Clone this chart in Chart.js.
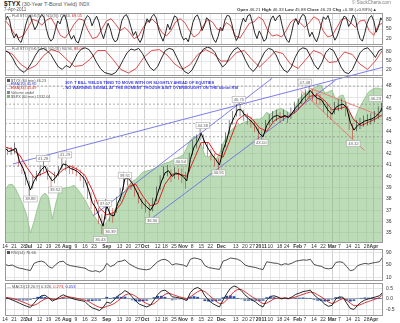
<!DOCTYPE html>
<html><head><meta charset="utf-8">
<script src="https://cdn.jsdelivr.net/npm/chart.js@4.4.1/dist/chart.umd.min.js"></script>
<style>
html,body{margin:0;padding:0;background:#fff;}
#wrap{position:relative;width:400px;height:323px;overflow:hidden;background:#fff;font-family:"Liberation Sans",Arial,sans-serif;}
canvas{position:absolute;left:0;}
.t{position:absolute;white-space:nowrap;line-height:1;color:#555;}
.b{font-weight:bold;color:#222;}
.r{color:#d22;}
.bl{color:#33c;}
.ann{position:absolute;white-space:nowrap;line-height:1;color:#3a3ae6;font-weight:bold;font-size:4px;}
.sq{display:inline-block;width:3px;height:3px;margin-right:1px;vertical-align:middle;}
</style></head><body>
<div id="wrap">
<canvas id="cSto1" width="400" height="34" style="top:12px"></canvas>
<canvas id="cSto2" width="400" height="32" style="top:45px"></canvas>
<canvas id="cRsi" width="400" height="34" style="top:248px"></canvas>
<canvas id="cMacd" width="400" height="41" style="top:282px"></canvas>
<canvas id="cMain" width="400" height="191" style="top:60px"></canvas>

<div class="t" style="left:4px;top:1px;font-size:5.5px;"><span class="b" style="font-size:6.5px">$TYX</span> (30-Year T-Bond Yield) <span style="font-size:4.5px">INDX</span></div>
<div class="t" style="left:4px;top:8px;font-size:4.5px;">7-Apr-2011</div>
<div class="t" style="left:352px;top:1px;font-size:4.5px;color:#777">© StockCharts.com</div>
<div class="t" style="left:237px;top:8px;font-size:4.4px;color:#333"><b>Open</b> 46.21 <b>High</b> 46.33 <b>Low</b> 45.88 <b>Close</b> 46.23 <b>Chg</b> +0.38 (+0.83%)▲</div>

<div class="t" style="left:7px;top:14px;font-size:4px;">— Full STO (%K(5,3) %D(3)) 73.63, <span class="r">69.05</span></div>
<div class="t" style="left:7px;top:47px;font-size:4px;">— Full STO (%K(14,3) %D(3)) 90.94, <span class="r">88.07</span></div>

<div class="t" style="left:7px;top:78.5px;font-size:3.8px;"><span class="sq" style="background:#555"></span>$TYX (60 min) 46.23</div>
<div class="t bl" style="left:7px;top:82.5px;font-size:3.8px;">—EMA(10) 45.90</div>
<div class="t r" style="left:7px;top:86.5px;font-size:3.8px;">—EMA(34) 45.49</div>
<div class="t" style="left:7px;top:90.5px;font-size:3.8px;"><span class="sq" style="background:#888"></span>Volume undef</div>
<div class="t" style="left:7px;top:94.5px;font-size:3.8px;"><span class="sq" style="background:#7cb574"></span>$SPX (60 min) 1332.04</div>

<div class="ann" style="left:65px;top:80.5px;">30Y: T BILL YIELDS TEND TO MOVE WITH OR SLIGHTLY AHEAD OF EQUITIES</div>
<div class="ann" style="left:63px;top:86px;">- NO WARNING SIGNAL AT THE MOMENT THOUGH A BIT OVERBOUGHT ON THE 60min RSI</div>

<div class="t" style="left:7px;top:250.5px;font-size:4px;"><span class="sq" style="background:#555"></span>RSI(14) 76.66</div>
<div class="t" style="left:7px;top:284.5px;font-size:4px;">— MACD(12,26,9) 0.326, <span class="r">0.273</span>, <span class="bl">0.053</span></div>
</div>

<script>
// ---------- DATA ----------
const tickDays = [0,5,10,13,19,24,29,34,39,44,49,56,63,68,73,77,84,88,93,98,103,108,113,119,127,132,136,141,146,151,155,161,165,170,175,180,184,189,194,199,203];
const tickLabels = ["14","21","28","Jul","12","19","26","Aug","9","16","23","Sep","13","20","27","Oct","12","18","25","Nov","8","15","22","Dec","13","20","27","2011","10","18","24","Feb","7","14","22","Mar","7","14","21","28","Apr"];
const monthLabels = ["Jul","Aug","Sep","Oct","Nov","Dec","2011","Feb","Mar","Apr"];

// $TYX (60 min) close / high / low, every 2 trading days, 14-Jun-2010 .. 7-Apr-2011
const tyx = [42.5,42.2,42.3,42.5,41.3,40.7,39.7,38.8,39.6,40.1,
 40.6,40.9,40.1,39.6,39.9,40.5,41.1,41.0,40.7,40.6,
 40.4,40.1,39.7,38.8,37.7,37.2,36.4,35.6,37.4,36.6,
 36.5,37.6,38.3,39.8,39.8,39.4,38.8,38.1,37.6,37.3,
 37.0,37.5,38.5,39.5,40.3,40.5,40.0,40.3,40.2,40.0,
 39.6,41.5,42.6,43.1,43.8,43.0,42.4,41.9,41.5,41.0,
 42.3,43.2,44.5,45.2,45.9,45.9,45.4,45.1,44.8,44.4,
 43.8,43.5,44.5,45.0,45.3,45.4,45.2,45.4,45.2,45.6,
 46.1,46.4,46.9,47.2,47.6,47.2,46.9,46.8,46.3,45.8,
 45.5,46.1,46.3,46.4,46.1,44.8,44.1,44.5,44.7,44.9,
 45.0,45.1,45.3,45.6,46.2];
const tyxHigh = [42.8,42.6,42.6,43.0,42.0,41.2,40.4,39.6,40.0,40.5,
 41.0,41.5,40.8,40.0,40.4,40.9,41.6,41.4,41.0,41.0,
 40.8,40.6,40.2,39.5,38.6,37.9,37.2,36.7,38.0,37.5,
 37.2,38.2,39.0,40.4,40.3,40.0,39.4,38.6,38.1,37.9,
 37.6,38.1,39.1,40.1,40.9,41.0,40.6,40.8,40.7,40.7,
 40.4,42.1,43.2,43.7,44.3,43.7,43.0,42.4,42.0,41.6,
 42.9,43.9,45.0,45.8,46.4,46.4,45.9,45.6,45.3,44.9,
 44.3,44.1,45.0,45.5,45.8,45.9,45.7,45.9,45.7,46.1,
 46.6,46.9,47.4,47.7,48.0,47.7,47.4,47.3,46.8,46.4,
 46.0,46.6,46.8,46.9,46.6,45.6,44.7,45.0,45.2,45.4,
 45.5,45.6,45.8,46.2,46.5];
const tyxLow = [42.0,41.9,41.9,42.0,40.9,40.2,39.2,38.2,38.9,39.6,
 40.0,40.4,39.7,39.0,39.4,40.0,40.6,40.5,40.2,40.2,
 40.0,39.6,39.0,38.0,37.1,36.6,35.8,34.9,36.2,36.0,
 35.9,36.8,37.8,38.8,39.2,38.8,38.2,37.6,37.1,36.8,
 36.4,36.9,37.8,38.8,39.8,40.0,39.5,39.8,39.7,39.4,
 38.9,40.4,41.9,42.5,43.2,42.4,41.8,41.4,40.9,40.3,
 41.6,42.6,43.8,44.6,45.3,45.3,44.9,44.6,44.3,43.9,
 43.2,42.9,43.9,44.5,44.8,44.9,44.7,44.9,44.7,45.1,
 45.6,45.9,46.4,46.7,47.0,46.7,46.4,46.3,45.7,45.2,
 45.0,45.5,45.8,45.9,45.3,44.1,43.3,44.0,44.2,44.4,
 44.5,44.6,44.8,45.1,45.7];
// EMA(34), every 4 trading days
const ema34 = [42.6,42.4,41.9,40.8,39.9,40.2,40.5,40.0,40.6,40.9,40.6,40.1,38.8,37.2,36.6,36.8,37.6,39.1,39.3,38.2,
 37.4,37.6,39.3,40.2,40.2,40.0,41.5,43.0,43.0,42.0,41.7,43.3,45.0,45.5,45.1,44.3,44.0,44.9,45.3,45.3,
 45.7,46.4,47.1,47.2,46.7,45.9,46.0,46.2,45.0,44.5,44.8,45.1,45.5];
// $SPX overlay, every 2 trading days
const spx = [1113,1125,1126,1115,1098,1080,1058,1020,1045,1075,
 1100,1107,1097,1050,1085,1113,1117,1119,1120,1124,
 1115,1104,1092,1077,1063,1052,1040,1033,1044,1056,
 1066,1085,1100,1112,1124,1132,1137,1145,1153,1155,
 1157,1160,1164,1168,1172,1174,1178,1182,1186,1190,
 1205,1222,1230,1228,1212,1188,1186,1190,1180,1192,
 1215,1230,1242,1250,1255,1258,1262,1264,1266,1268,
 1268,1272,1283,1278,1285,1289,1292,1287,1283,1276,
 1298,1312,1322,1327,1331,1336,1341,1342,1325,1328,
 1331,1310,1318,1321,1300,1280,1262,1285,1300,1314,
 1327,1333,1336,1335,1333];

// Full STO (5,3)
const sto5K = [72,90,78,40,22,35,15,8,30,62,85,93,70,48,60,82,95,88,52,25,
 12,20,48,75,66,88,94,72,35,18,30,12,6,28,55,80,92,85,60,78,
 90,72,40,20,45,68,50,22,10,15,42,76,90,95,80,55,30,42,20,8,
 25,58,82,70,88,96,84,50,28,12,35,65,48,72,91,86,58,30,16,22,
 10,38,70,88,94,76,45,60,85,78,40,18,8,26,55,45,78,93,90,66,
 34,14,28,60,84,72,92,95,70,38,20,44,30,12,18,52,80,91,75,88,
 93,60,32,15,8,35,68,82,64,85,96,90,55,26,40,22,10,30,62,88,
 80,92,68,35,15,28,50,74,90,86,58,70,94,82,45,20,12,36,66,84,
 92,75,40,55,85,74];
const sto5D = [78,60,35,22,30,55,80,75,62,78,85,60,30,22,40,65,82,78,45,20,
 25,50,75,82,65,45,55,40,20,28,55,75,80,65,40,28,45,72,82,70,
 45,25,35,60,80,72,50,45,70,60,28,22,45,68,72,88,78,45,28,32,
 25,45,72,82,70,55,70,88,80,45,25,30,55,80,84,70,55,75,78,45,
 30,62,69];
// Full STO (14,3)
const sto14K = [85,78,60,35,20,12,25,45,70,88,92,85,72,50,30,22,35,28,50,75,
 90,94,88,70,45,25,12,8,5,12,30,55,78,90,86,92,75,50,28,18,
 32,60,85,92,88,62,35,15,8,20,45,72,90,96,92,78,50,30,42,70,
 88,95,80,52,28,15,30,55,80,92,88,70,40,20,12,30,62,86,94,90,
 65,38,22,45,78,92,85,60,30,12,8,22,50,78,90,94,80,62,85,91];
const sto14D = [85,72,40,22,35,68,88,80,55,32,
 35,55,85,85,55,22,10,25,62,85,
 88,70,40,22,38,72,88,75,50,50,
 78,85,55,30,55,82,75,40,25,55,
 85,75,45,48,80,72,40,22,50,88];
// RSI(14)
const rsi = [52,48,50,44,40,38,35,33,55,60,62,58,45,40,52,60,62,52,48,46,
 44,42,40,33,30,32,28,35,55,45,50,60,62,66,55,48,42,38,36,35,
 38,50,60,66,68,62,50,54,52,50,45,68,72,70,66,48,42,40,38,36,
 62,66,72,70,68,62,50,46,44,42,38,36,60,58,56,55,50,54,52,56,
 62,64,66,65,68,52,48,46,40,38,40,58,60,58,45,32,35,48,52,55,
 53,56,58,60,76];
// MACD(12,26,9)
const macd = [0.05,0.02,-0.05,-0.12,-0.2,-0.28,-0.35,-0.4,-0.2,0.0,0.15,0.18,0.05,-0.1,-0.02,0.1,0.2,0.12,0.05,0.0,
 -0.05,-0.08,-0.12,-0.3,-0.42,-0.48,-0.55,-0.4,-0.15,-0.2,-0.05,0.15,0.25,0.4,0.3,0.1,-0.1,-0.25,-0.32,-0.38,
 -0.3,-0.05,0.2,0.38,0.42,0.3,0.1,0.08,0.05,0.0,-0.08,0.3,0.48,0.55,0.45,0.15,-0.05,-0.2,-0.3,-0.38,
 -0.05,0.25,0.5,0.62,0.55,0.4,0.2,0.05,-0.05,-0.15,-0.3,-0.38,-0.05,0.12,0.15,0.1,0.0,0.05,0.02,0.1,
 0.22,0.28,0.35,0.38,0.42,0.2,0.05,-0.08,-0.25,-0.35,-0.3,0.0,0.1,0.08,-0.2,-0.45,-0.5,-0.3,-0.15,-0.05,
 0.0,0.05,0.1,0.15,0.33];
const macdSignal = [0.08,0.06,0.03,-0.02,-0.08,-0.15,-0.22,-0.3,-0.3,-0.22,-0.1,0.0,0.05,0.0,-0.02,0.02,0.08,0.1,0.09,0.06,
 0.02,-0.02,-0.06,-0.12,-0.22,-0.32,-0.4,-0.42,-0.35,-0.3,-0.22,-0.1,0.05,0.18,0.25,0.22,0.12,0.0,-0.12,-0.22,
 -0.28,-0.22,-0.08,0.08,0.22,0.28,0.22,0.16,0.1,0.06,0.02,0.1,0.22,0.35,0.42,0.35,0.2,0.05,-0.1,-0.22,
 -0.2,-0.05,0.15,0.35,0.45,0.45,0.35,0.22,0.1,0.0,-0.12,-0.22,-0.2,-0.1,0.0,0.05,0.04,0.04,0.03,0.05,
 0.1,0.16,0.22,0.28,0.33,0.3,0.2,0.1,-0.02,-0.15,-0.22,-0.15,-0.05,0.02,-0.05,-0.2,-0.32,-0.32,-0.26,-0.18,
 -0.12,-0.06,0.0,0.06,0.27];
const macdHist = [-0.02,-0.02,-0.04,-0.05,-0.06,-0.07,-0.07,-0.05,0.05,0.1,0.12,0.09,0.0,-0.05,0.0,0.04,0.06,0.01,-0.02,-0.03,
 -0.04,-0.03,-0.03,-0.09,-0.1,-0.08,-0.08,0.01,0.1,0.05,0.08,0.12,0.1,0.11,0.03,-0.06,-0.11,-0.12,-0.1,-0.08,
 -0.01,0.08,0.14,0.15,0.1,0.01,-0.06,-0.04,-0.03,-0.03,-0.05,0.1,0.13,0.1,0.02,-0.1,-0.12,-0.12,-0.1,-0.08,
 0.08,0.15,0.17,0.13,0.05,-0.03,-0.08,-0.08,-0.08,-0.08,-0.09,-0.08,0.08,0.11,0.08,0.03,-0.02,0.01,-0.01,0.03,
 0.06,0.06,0.07,0.05,0.05,-0.05,-0.08,-0.09,-0.12,-0.1,-0.04,0.08,0.08,0.03,-0.08,-0.12,-0.09,0.01,0.05,0.07,
 0.06,0.06,0.05,0.05,0.05];

// drawn trend lines [day1, value1, day2, value2]
const blueLines = [[4.4,41.1,208.3,49.68],[48.5,36.5,147.1,48.7],[78.8,36.05,181.8,48.5]];
const redLines = [[162.5,47.65,197.8,42.3],[168,47.8,208.3,45.26]];
const hLevels = [48.0,46.4,44.7,43.5,40.9];
// price labels [day, value, text]
const calloutDays = [14,21,27.6,33,52.5,55,58,66,81,96.7,108.8,117.6,128.7,141,165,191.7,204];
const calloutVals = [38.0,41.6,38.8,41.9,34.4,37.6,35.1,40.1,36.1,41.3,44.5,40.3,46.8,43.0,48.35,42.9,46.9];
const calloutText = ["38.88","41.28","39.52","41.29","35.43","37.67","36.39","39.51","36.56","40.54","44.38","40.91","46.75","43.10","47.48","43.12","46.23"];

// ---------- HELPERS ----------
const FONT = '"Liberation Sans", Arial, sans-serif';
Chart.defaults.font.family = FONT;
const idx = n => Array.from({length:n}, (_, i) => i);
const cat = n => ({type:'category', labels: idx(n), offset:false, display:false});

function xLinear(showLabels, h){
  return {type:'linear', position:'bottom', min:0, max:208,
    afterBuildTicks: s => { s.ticks = tickDays.map(v => ({value:v})); },
    afterFit: s => { s.height = h; s.paddingLeft = 0; s.paddingRight = 0; },
    grid:{color: c => (c.tick && monthLabels.includes(tickLabels[c.index])) ? '#c4c4c4' : '#e0e0e0', lineWidth:0.8, drawTicks:false},
    border:{display:false},
    ticks:{display:showLabels, autoSkip:false, maxRotation:0, minRotation:0, padding:1, color:'#333',
      font: c => ({family:FONT, size:5, weight:(monthLabels.includes(tickLabels[c.index]) ? 'bold' : 'normal')}),
      callback: (v, i) => tickLabels[i]}
  };
}
function yRight(min, max, ticks, fmt, gridFn){
  return {type:'linear', position:'right', min, max,
    afterBuildTicks: s => { s.ticks = ticks.map(v => ({value:v})); },
    afterFit: s => { s.width = 17; s.paddingTop = 0; s.paddingBottom = 0; },
    grid:{color: gridFn || '#e0e0e0', lineWidth:0.8, drawTicks:false},
    border:{display:false},
    ticks:{padding:3, color:'#333', font:{family:FONT, size:5}, callback: fmt || (v => v)}
  };
}
function base(top, bottom){
  return {responsive:false, animation:false, devicePixelRatio:1, events:[],
    layout:{padding:{left:5, right:0, top, bottom}},
    plugins:{legend:{display:false}, tooltip:{enabled:false}},
    elements:{point:{radius:0}, line:{tension:0}}};
}
const frame = {id:'frame', afterDraw(c){
  const a = c.chartArea, ctx = c.ctx; ctx.save(); ctx.strokeStyle = '#999'; ctx.lineWidth = 1;
  ctx.strokeRect(Math.round(a.left)+0.5, Math.round(a.top)+0.5, Math.round(a.right-a.left)-1, Math.round(a.bottom-a.top)-1);
  ctx.restore(); }};
const callouts = {id:'callouts', afterDatasetsDraw(c){
  const ctx = c.ctx, xs = c.scales.x, ys = c.scales.y; ctx.save();
  ctx.font = '4.2px ' + FONT; ctx.textAlign = 'center'; ctx.textBaseline = 'middle';
  calloutDays.forEach((d, i) => {
    const px = xs.getPixelForValue(d), py = ys.getPixelForValue(calloutVals[i]);
    const t = calloutText[i], w = ctx.measureText(t).width + 3;
    ctx.fillStyle = 'rgba(255,255,255,0.9)'; ctx.fillRect(px-w/2, py-3, w, 6);
    ctx.strokeStyle = '#aaa'; ctx.lineWidth = 0.6; ctx.strokeRect(px-w/2, py-3, w, 6);
    ctx.fillStyle = '#666'; ctx.fillText(t, px, py+0.3);
  });
  ctx.restore(); }};
function mk(id, cfg){ cfg.plugins = (cfg.plugins || []).concat([frame]); return new Chart(document.getElementById(id), cfg); }

// ---------- STO 5 ----------
mk('cSto1', {type:'line', data:{datasets:[
  {data:sto5K, xAxisID:'xa', yAxisID:'y', borderColor:'#111', borderWidth:0.9},
  {data:sto5D, xAxisID:'xb', yAxisID:'y', borderColor:'#d42020', borderWidth:0.8}]},
  options:Object.assign(base(1,1), {scales:{x:xLinear(false,0), xa:cat(sto5K.length), xb:cat(sto5D.length),
    y:yRight(0,100,[20,50,80])}})});
// ---------- STO 14 ----------
mk('cSto2', {type:'line', data:{datasets:[
  {data:sto14K, xAxisID:'xa', yAxisID:'y', borderColor:'#111', borderWidth:0.9},
  {data:sto14D, xAxisID:'xb', yAxisID:'y', borderColor:'#d42020', borderWidth:0.8}]},
  options:Object.assign(base(1,1), {scales:{x:xLinear(false,0), xa:cat(sto14K.length), xb:cat(sto14D.length),
    y:yRight(0,100,[20,50,80])}})});
// ---------- RSI ----------
mk('cRsi', {type:'line', data:{datasets:[
  {data:rsi, xAxisID:'xa', yAxisID:'y', borderColor:'#222', borderWidth:0.8}]},
  options:Object.assign(base(1,1), {scales:{x:xLinear(false,0), xa:cat(rsi.length),
    y:yRight(0,100,[10,30,50,70,90], null, c => (c.tick && (c.tick.value===30||c.tick.value===70)) ? '#aaa' : '#e0e0e0')}})});
// ---------- MACD ----------
mk('cMacd', {type:'line', data:{datasets:[
  {data:macd, xAxisID:'xa', yAxisID:'y', borderColor:'#111', borderWidth:0.9, order:1},
  {data:macdSignal, xAxisID:'xa', yAxisID:'y', borderColor:'#d42020', borderWidth:0.9, order:2},
  {type:'bar', data:macdHist, xAxisID:'xa', yAxisID:'y', backgroundColor:'#1f4fae', barPercentage:0.8, categoryPercentage:1, order:3}]},
  options:Object.assign(base(1,0), {scales:{x:xLinear(true,7), xa:cat(macd.length),
    y:yRight(-0.81,0.76,[-0.5,0,0.5], v => v.toFixed(1), c => (c.tick && c.tick.value===0) ? '#999' : '#e0e0e0')}})});

// ---------- MAIN ----------
const tyxRange = tyxLow.map((l, i) => [l, tyxHigh[i]]);
const mainDs = [
  {data:tyx, xAxisID:'xp', yAxisID:'y', borderColor:'#000', borderWidth:1, order:1},
  {type:'bar', data:tyxRange, xAxisID:'xp', yAxisID:'y', order:1.5, barPercentage:0.4, categoryPercentage:1,
    backgroundColor: tyx.map((v, i) => (i > 0 && v < tyx[i-1]) ? '#c81818' : '#111')},
  {data:ema34, xAxisID:'xe', yAxisID:'y', borderColor:'#e02020', borderWidth:1, order:2}
];
blueLines.forEach((l, i) => mainDs.push({data:[{x:l[0],y:l[1]},{x:l[2],y:l[3]}], xAxisID:'x', yAxisID:'y',
  borderColor:'#6e6ee8', borderWidth:0.9, order:3, clip: i===0 ? {left:0,right:0,bottom:0,top:false} : 0}));
redLines.forEach(l => mainDs.push({data:[{x:l[0],y:l[1]},{x:l[2],y:l[3]}], xAxisID:'x', yAxisID:'y',
  borderColor:'#f07070', borderWidth:0.9, order:3}));
hLevels.forEach(v => mainDs.push({data:[{x:0,y:v},{x:208,y:v}], xAxisID:'x', yAxisID:'y',
  borderColor:'#888', borderWidth:0.7, borderDash:[2,2], order:4}));
mainDs.push({data:spx, xAxisID:'xp', yAxisID:'ySpx', borderColor:'#8cc084', borderWidth:0.8,
  backgroundColor:'rgba(120,185,110,0.5)', fill:'start', order:9});

mk('cMain', {type:'line', data:{datasets:mainDs}, plugins:[callouts],
  options:Object.assign(base(17,0), {scales:{
    x:xLinear(true,8), xp:cat(tyx.length), xe:cat(ema34.length),
    y:yRight(34.1,48.8,[35,36,37,38,39,40,41,42,43,44,45,46,47,48]),
    ySpx:{type:'linear', display:false, min:998, max:1360}
  }})});
</script>
</body></html>
